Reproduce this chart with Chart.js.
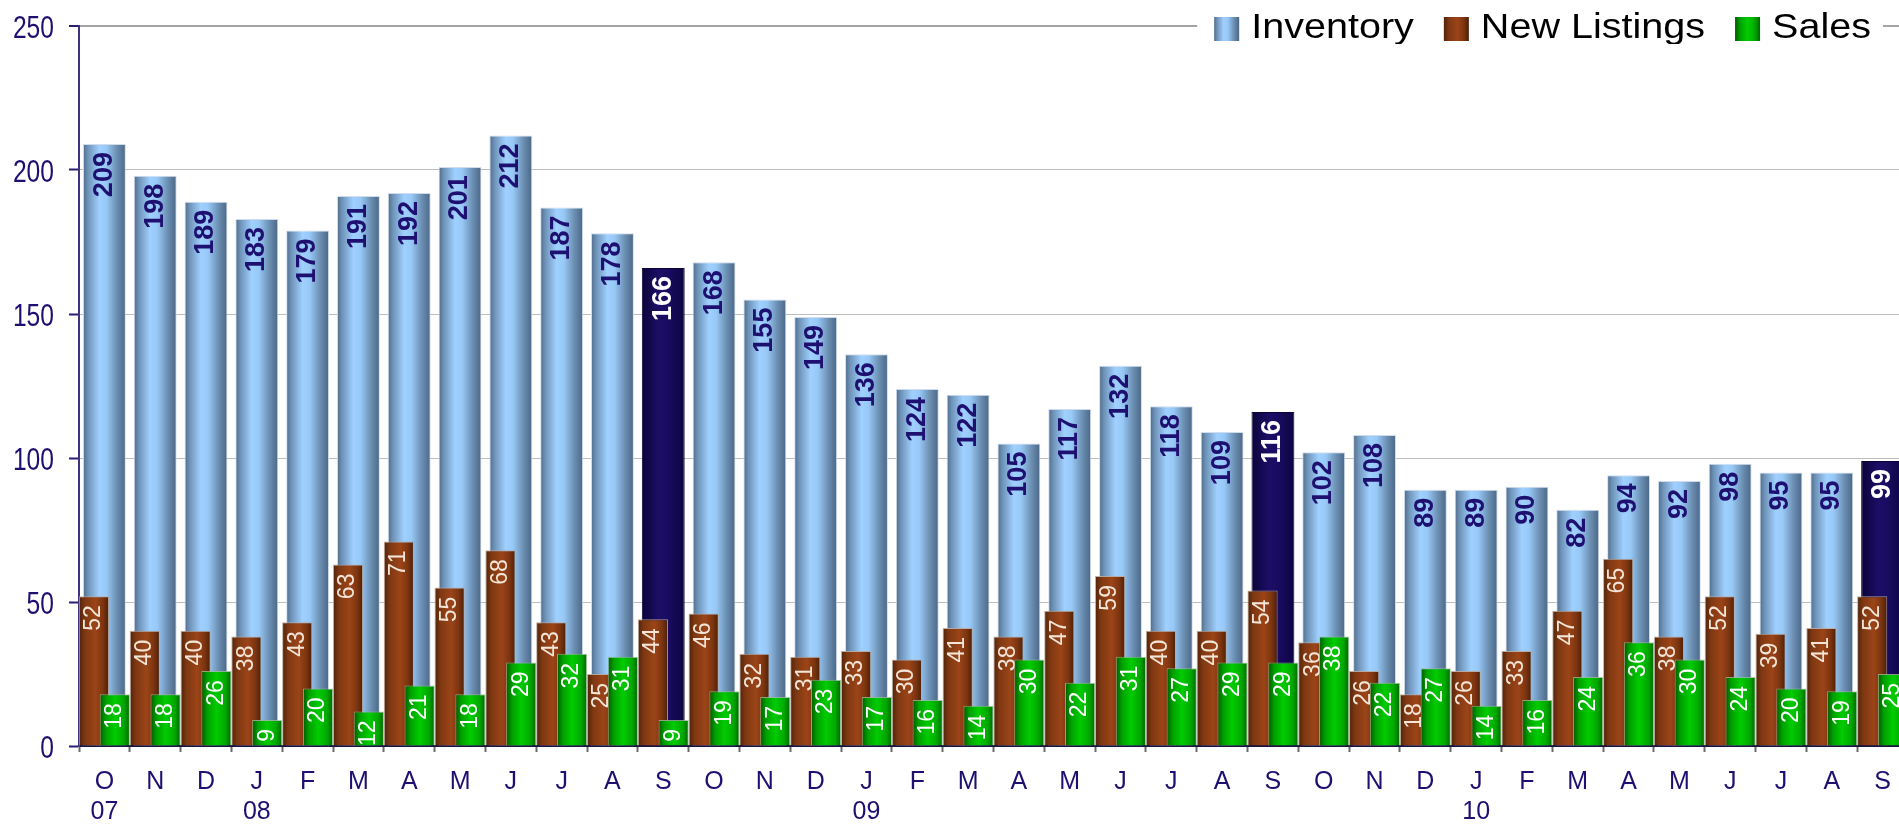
<!DOCTYPE html>
<html>
<head>
<meta charset="utf-8">
<script src="https://cdn.jsdelivr.net/npm/chart.js@4"></script>
<style>
html,body{margin:0;padding:0;overflow:hidden;background:#ffffff;}
#wrap{width:1908px;height:825px;position:relative;}
</style>
</head>
<body>
<div id="wrap"><canvas id="c"></canvas></div>
<script>
// ---- data ----
const monthLabels = ['O','N','D','J','F','M','A','M','J','J','A','S',
                     'O','N','D','J','F','M','A','M','J','J','A','S',
                     'O','N','D','J','F','M','A','M','J','J','A','S'];
const yearLabels  = ['07','','','08','','','','','','','','',
                     '','','','09','','','','','','','','',
                     '','','','10','','','','','','','',''];
const inventory   = [209,198,189,183,179,191,192,201,212,187,178,166,
                     168,155,149,136,124,122,105,117,132,118,109,116,
                     102,108,89,89,90,82,94,92,98,95,95,99];
const newListings = [52,40,40,38,43,63,71,55,68,43,25,44,
                     46,32,31,33,30,41,38,47,59,40,40,54,
                     36,26,18,26,33,47,65,38,52,39,41,52];
const sales       = [18,18,26,9,20,12,21,18,29,32,31,9,
                     19,17,23,17,16,14,30,22,31,27,29,29,
                     38,22,27,14,16,24,36,30,24,20,19,25];
const yTicks = [0,50,100,150,200,250];
const highlightMonth = 'S';

// ---- style constants ----
const NAVY = '#1e1070';
const INV_PCT = 0.844;
const GRP_CAT = 0.82;
const GRP_BAR = 1.45;
const invStops   = [[0,'#4d6b8b'],[0.12,'#6f93b8'],[0.38,'#9fd0ff'],[0.55,'#97c8f6'],[0.8,'#6a8db0'],[1,'#4a6686']];
const hiStops    = [[0,'#0a0338'],[0.4,'#1c0e66'],[0.6,'#1a0c62'],[1,'#0c0440']];
const nlStops    = [[0,'#4e2208'],[0.2,'#7e3812'],[0.55,'#9c4418'],[0.8,'#7c3510'],[1,'#4a1f06']];
const salesStops = [[0,'#005a00'],[0.2,'#00a000'],[0.5,'#00cc00'],[0.8,'#00a800'],[1,'#006400']];

const categories = monthLabels.map((m, i) => yearLabels[i] ? [m, yearLabels[i]] : m);
const isHi = i => monthLabels[i] === highlightMonth;

function hGrad(ctx, x0, x1, stops) {
  const g = ctx.createLinearGradient(x0, 0, x1, 0);
  stops.forEach(([o, c]) => g.addColorStop(o, c));
  return g;
}
function barFill(c, kind) {
  let stops = kind === 'inv' ? (isHi(c.dataIndex) ? hiStops : invStops) : (kind === 'nl' ? nlStops : salesStops);
  const xs = c.chart.scales && c.chart.scales.x;
  if (c.type !== 'data' || !xs || !xs.width) return stops[2][1];
  const cw = xs.getPixelForValue(1) - xs.getPixelForValue(0);
  const center = xs.getPixelForValue(c.dataIndex);
  let cx = center, hw;
  if (kind === 'inv') { hw = cw * INV_PCT / 2; }
  else {
    const chunk = cw * GRP_CAT / 2;
    cx = center + (kind === 'nl' ? -chunk / 2 : chunk / 2);
    hw = chunk * GRP_BAR / 2;
  }
  return hGrad(c.chart.ctx, cx - hw, cx + hw, stops);
}

const labelStyle = [
  { font: 'bold 27px "Liberation Sans", Arial, sans-serif', pad: 8, color: i => isHi(i) ? '#ffffff' : NAVY },
  { font: '23px "Liberation Sans", Arial, sans-serif', pad: 9, color: () => '#f3e6d8' },
  { font: '23px "Liberation Sans", Arial, sans-serif', pad: 9, color: () => '#ffffff' }
];
function drawValueLabels(chart, dsIndex) {
  const meta = chart.getDatasetMeta(dsIndex);
  const ds = chart.data.datasets[dsIndex];
  const st = labelStyle[dsIndex];
  const ctx = chart.ctx;
  meta.data.forEach((el, i) => {
    const v = ds.data[i];
    if (v === null || v === undefined) return;
    ctx.save();
    ctx.translate(el.x, el.y + st.pad);
    ctx.rotate(-Math.PI / 2);
    ctx.font = st.font;
    ctx.fillStyle = st.color(i);
    ctx.textAlign = 'right';
    ctx.textBaseline = 'middle';
    ctx.fillText(String(v), 0, 0);
    ctx.restore();
  });
}
// y tick labels in a condensed face, placed by the y scale
function drawYLabels(chart) {
  const ys = chart.scales.y;
  const ctx = chart.ctx;
  ctx.save();
  ctx.font = '32px "Liberation Sans", Arial, sans-serif';
  ctx.fillStyle = NAVY;
  ctx.textAlign = 'right';
  ctx.textBaseline = 'alphabetic';
  ys.ticks.forEach(t => {
    const y = ys.getPixelForValue(t.value);
    ctx.save();
    ctx.translate(ys.right - 25, y + 11.5);
    ctx.scale(0.77, 1);
    ctx.fillText(String(t.value), 0, 0);
    ctx.restore();
  });
  ctx.restore();
}
const legendStops = [invStops, nlStops, salesStops];
function drawLegend(chart) {
  const ctx = chart.ctx;
  const names = chart.data.datasets.map(d => d.label);
  const right = chart.chartArea.right - 37;
  const sx = 1.13, box = 25, gapBT = 12, gapItem = 30;
  ctx.save();
  ctx.font = '35px "Liberation Sans", Arial, sans-serif';
  const widths = names.map(t => ctx.measureText(t).width * sx);
  const total = widths.reduce((a, w) => a + box + gapBT + w, 0) + gapItem * (names.length - 1);
  let x = right - total;
  ctx.fillStyle = '#ffffff';
  ctx.fillRect(x - 17, 0, right + 12 - (x - 17), 44);
  ctx.beginPath(); ctx.rect(0, 0, chart.width, 44); ctx.clip();
  names.forEach((t, k) => {
    ctx.fillStyle = hGrad(ctx, x, x + box, legendStops[k]);
    ctx.fillRect(x, 17, box, 24);
    x += box + gapBT;
    ctx.save();
    ctx.translate(x, 38);
    ctx.scale(sx, 1);
    ctx.fillStyle = '#000000';
    ctx.textAlign = 'left';
    ctx.textBaseline = 'alphabetic';
    ctx.fillText(t, 0, 0);
    ctx.restore();
    x += widths[k] + gapItem;
  });
  ctx.restore();
}

const INV = 0, NL = 1, SALES = 2;
const layerPlugin = {
  id: 'layers',
  beforeDatasetDraw(chart, args) { if (args.index === SALES) return false; },
  afterDatasetDraw(chart, args) {
    drawValueLabels(chart, args.index);
    if (args.index === NL) {
      chart.ctx.save();
      chart.getDatasetMeta(SALES).controller.draw();
      chart.ctx.restore();
      drawValueLabels(chart, SALES);
    }
  },
  afterDraw(chart) { drawYLabels(chart); drawLegend(chart); }
};

new Chart(document.getElementById('c'), {
  type: 'bar',
  data: {
    labels: categories,
    datasets: [
      { label: 'Inventory', data: inventory, order: 3, grouped: false,
        barPercentage: INV_PCT, categoryPercentage: 1,
        backgroundColor: c => barFill(c, 'inv'),
        borderColor: c => isHi(c.dataIndex) ? '#0a0338' : 'rgba(205,218,235,0.95)', borderWidth: 1 },
      { label: 'New Listings', data: newListings, order: 1,
        barPercentage: GRP_BAR, categoryPercentage: GRP_CAT,
        backgroundColor: c => barFill(c, 'nl'),
        borderColor: 'rgba(185,170,160,0.9)', borderWidth: 1 },
      { label: 'Sales', data: sales, order: 2,
        barPercentage: GRP_BAR, categoryPercentage: GRP_CAT,
        backgroundColor: c => barFill(c, 'sales'),
        borderColor: 'rgba(150,190,150,0.8)', borderWidth: 1 }
    ]
  },
  options: {
    responsive: true,
    maintainAspectRatio: false,
    animation: false,
    devicePixelRatio: 1,
    layout: { padding: { top: 26, left: 0, right: 0, bottom: 0 } },
    plugins: { legend: { display: false }, tooltip: { enabled: false } },
    scales: {
      x: {
        offset: true,
        grid: { offset: true, drawOnChartArea: false, drawTicks: true, tickLength: 6, tickColor: '#6a6a6a', tickWidth: 2 },
        border: { display: true, color: '#1a1440', width: 2 },
        ticks: { autoSkip: false, maxRotation: 0, minRotation: 0, padding: 15, color: NAVY,
                 font: { family: '"Liberation Sans", Arial, sans-serif', size: 25, lineHeight: 1.2 } },
        afterFit(scale) { scale.height = 79; }
      },
      y: {
        min: yTicks[0], max: yTicks[yTicks.length - 1],
        afterBuildTicks(scale) { scale.ticks = yTicks.map(v => ({ value: v })); },
        grid: {
          color: c => c.tick && c.tick.value === 250 ? '#a4a4a4' : '#bdbdbd',
          lineWidth: c => c.tick && c.tick.value === 250 ? 2 : 1,
          drawTicks: true, tickLength: 10, tickColor: '#2a1f6e', tickWidth: 2
        },
        border: { display: true, color: '#3e3282', width: 2 },
        ticks: { display: false },
        afterFit(scale) { scale.width = 79; }
      }
    }
  },
  plugins: [layerPlugin]
});
</script>
</body>
</html>
